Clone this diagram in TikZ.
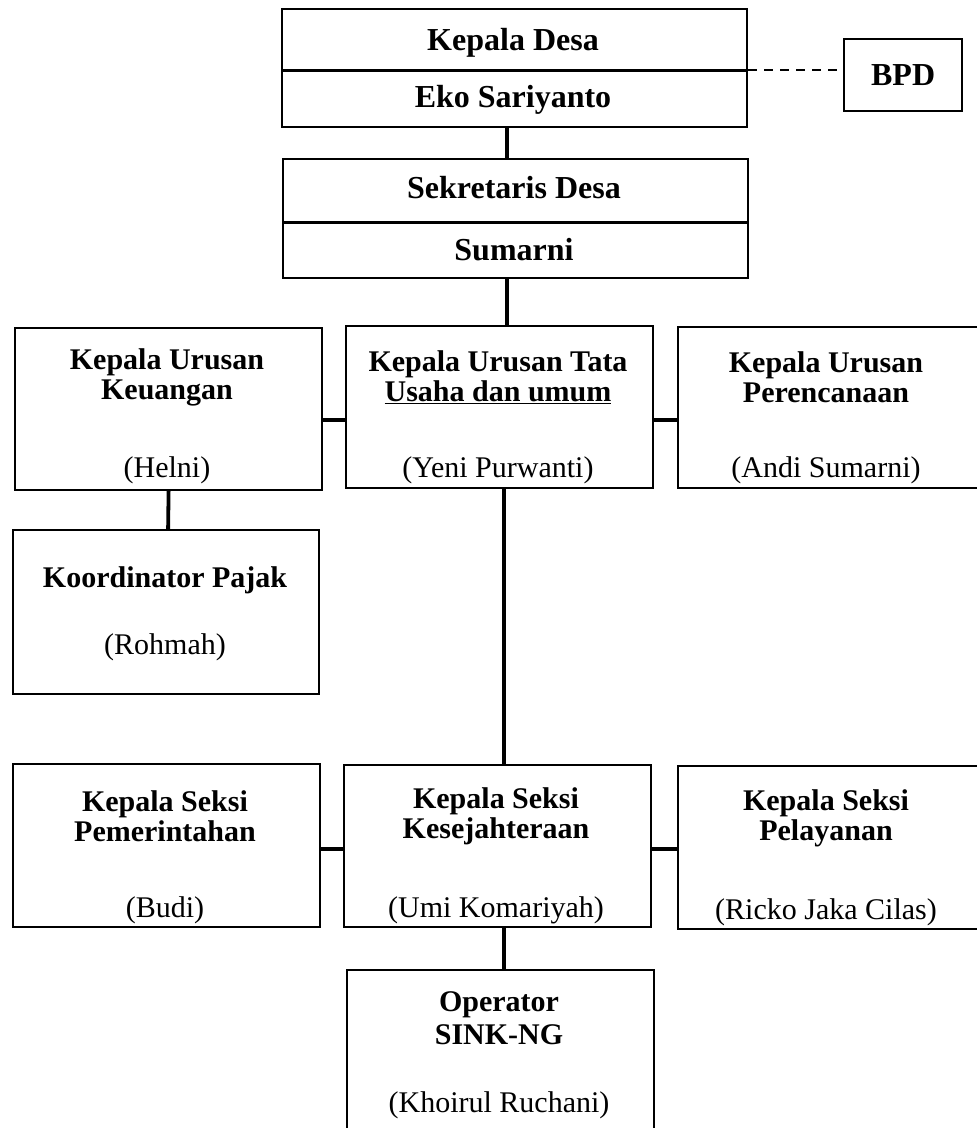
\documentclass[tikz,border=0pt]{standalone}
\usepackage{fontspec}
\setmainfont{Liberation Serif}
\begin{document}
\begin{tikzpicture}[x=1pt,y=-1pt,
  box/.style={draw, line width=2.2pt, inner sep=0pt, anchor=north west},
  link/.style={line width=3.8pt},
  head/.style={font=\fontsize{32}{34}\selectfont\bfseries},
  title/.style={font=\fontsize{30}{30}\selectfont\bfseries, align=center},
  who/.style={font=\fontsize{30}{30}\selectfont}]
\useasboundingbox (0,0) rectangle (977,1128);
% top: kepala desa and bpd
\node[box, minimum width=465pt, minimum height=118pt] (kades) at (281,8) {};
\draw[line width=3pt] (281,70) -- (748,70);
\coordinate (split) at (748,70);
\node[head] (kadest) at (513,43) {Kepala Desa};
\node[head] (kadesn) at (513,100) {Eko Sariyanto};
\node[box, minimum width=118pt, minimum height=72pt] (bpd) at (843,38) {};
\node[head] (bpdt) at (bpd.center) {BPD};
\draw[line width=1.5pt, dash pattern=on 9pt off 7pt] (split) -- (split -| bpd.west);
% sekretaris
\node[box, minimum width=465pt, minimum height=119pt] (sekdes) at (282,158) {};
\draw[line width=3pt] (282,222) -- (748,222);
\node[head] (sekdest) at (514,188) {Sekretaris Desa};
\node[head] (sekdesn) at (514,250) {Sumarni};
\draw[link] ([xshift=-8pt]kades.south) -- ([xshift=-9pt]sekdes.north);
% urusan
\node[box, minimum width=307pt, minimum height=162pt] (keu) at (14,327) {};
\node[box, minimum width=307pt, minimum height=162pt] (tu) at (345,325) {};
\node[box, minimum width=302pt, minimum height=161pt] (ren) at (677,326) {};
\node[title] (keut) at (167,377) {Kepala Urusan\\Keuangan};
\node[who] (keun) at (167,470) {(Helni)};
\node[title] (tut) at (498,377) {Kepala Urusan Tata\\\underline{Usaha dan umum}};
\node[who] (tun) at (498,470) {(Yeni Purwanti)};
\node[title] (rent) at (826,377) {Kepala Urusan\\Perencanaan};
\node[who] (renn) at (826,470) {(Andi Sumarni)};
\draw[link] ([xshift=-9pt]sekdes.south) -- ([xshift=-9pt]sekdes.south |- tu.north);
\draw[link] ([yshift=-11pt]keu.east) -- ([yshift=-11pt]keu.east -| tu.west);
\draw[link] ([yshift=-13pt]tu.east) -- ([yshift=-13pt]tu.east -| ren.west);
% koordinator pajak
\node[box, minimum width=306pt, minimum height=164pt] (koor) at (12,529) {};
\node[title] (koort) at (165,580) {Koordinator Pajak};
\node[who] (koorn) at (165,647) {(Rohmah)};
\draw[link] (keu.south) -- ([xshift=2pt]koor.north);
% seksi
\node[box, minimum width=307pt, minimum height=163pt] (pem) at (12,763) {};
\node[box, minimum width=307pt, minimum height=162pt] (kes) at (343,764) {};
\node[box, minimum width=302pt, minimum height=163pt] (pel) at (677,765) {};
\node[title] (pemt) at (165,816) {Kepala Seksi\\Pemerintahan};
\node[who] (pemn) at (165,910) {(Budi)};
\node[title] (kest) at (496,816) {Kepala Seksi\\Kesejahteraan};
\node[who] (kesn) at (496,910) {(Umi Komariyah)};
\node[title] (pelt) at (826,818) {Kepala Seksi\\Pelayanan};
\node[who] (peln) at (826,912) {(Ricko Jaka Cilas)};
\draw[link] ([xshift=4.5pt]tu.south) -- ([xshift=6.5pt]kes.north);
\draw[link] ([yshift=-3pt]pem.east) -- ([yshift=-3pt]pem.east -| kes.west);
\draw[link] ([yshift=-3pt]kes.east) -- ([yshift=-3pt]kes.east -| pel.west);
% operator
\node[box, minimum width=307pt, minimum height=170pt] (op) at (346,969) {};
\node[title, font=\fontsize{30}{33}\selectfont\bfseries] (opt) at (499,1018) {Operator\\SINK-NG};
\node[who] (opn) at (499,1105) {(Khoirul Ruchani)};
\draw[link] ([xshift=6.5pt]kes.south) -- ([xshift=3.5pt]op.north);
\end{tikzpicture}
\end{document}
